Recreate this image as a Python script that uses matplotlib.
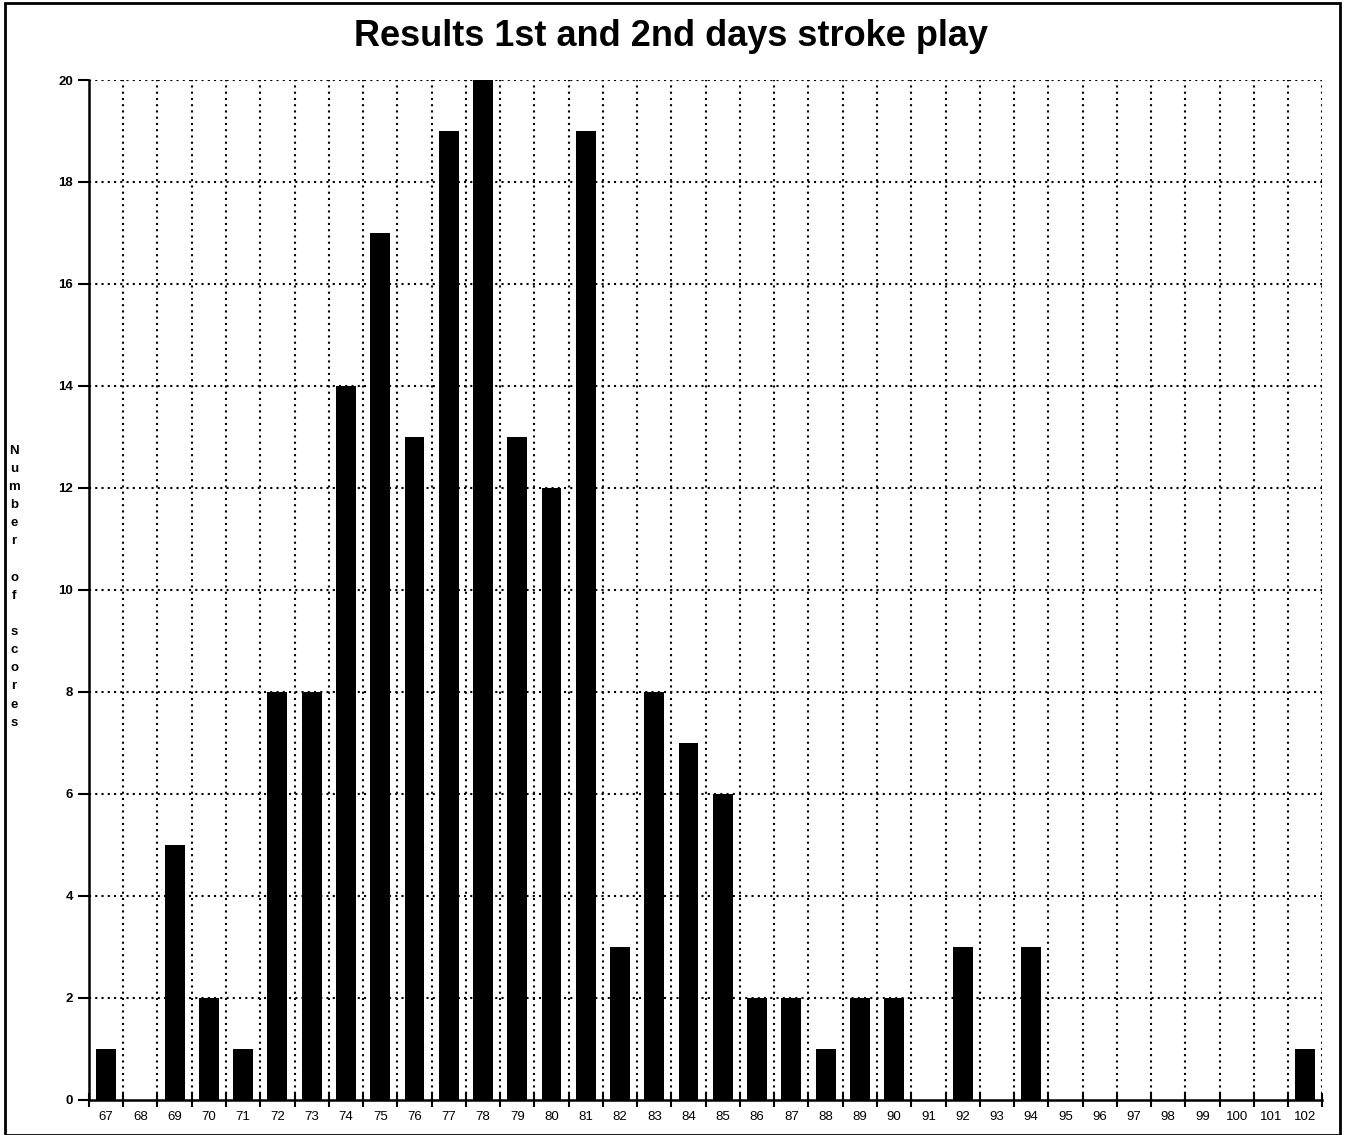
import numpy as np
import matplotlib.pyplot as plt
from matplotlib.patches import Rectangle

plt.rcParams['font.family'] = ['Liberation Sans', 'DejaVu Sans']

# scores and how many times each occurred
scores = list(range(67, 103))
counts = [1, 0, 5, 2, 1, 8, 8, 14, 17, 13, 19, 20, 13, 12, 19, 3, 8, 7, 6,
          2, 2, 1, 2, 2, 0, 3, 0, 3, 0, 0, 0, 0, 0, 0, 0, 1]
yticks = list(range(0, 21, 2))

fig = plt.figure(figsize=(13.48, 11.35), dpi=100)
ax = fig.add_axes([0.066, 0.031, 0.915, 0.8985])

x = np.arange(len(scores))
ax.bar(x, counts, width=0.58, color='black', zorder=3)

ax.set_xlim(-0.5, len(scores) - 0.5)
ax.set_ylim(0, 20)

# grid at category boundaries and every 2 counts
bounds = np.arange(len(scores) + 1) - 0.5
for b in bounds[1:]:
    ax.axvline(b, color='black', linestyle=(0, (1, 2)), linewidth=1.5, zorder=1)
for y in yticks[1:]:
    ax.axhline(y, color='black', linestyle=(0, (1, 2)), linewidth=1.5, zorder=1)

ax.set_xticks(bounds)
ax.set_xticklabels([])
ax.set_xticks(x, minor=True)
ax.set_xticklabels([str(s) for s in scores], minor=True, fontsize=9.5)
ax.tick_params(axis='x', which='major', direction='inout', length=10, width=1.5)
ax.tick_params(axis='x', which='minor', length=0, pad=8)

ax.set_yticks(yticks)
ax.set_yticklabels([str(v) for v in yticks], fontsize=9.5, fontweight='bold')
ax.tick_params(axis='y', direction='out', length=8, width=1.5)

for side in ['top', 'right']:
    ax.spines[side].set_visible(False)
ax.spines['left'].set_linewidth(1.8)
ax.spines['bottom'].set_linewidth(1.8)

fig.text(0.498, 0.968, 'Results 1st and 2nd days stroke play', fontsize=26,
         fontweight='bold', ha='center', va='center')

fig.text(0.0105, 0.483, '\n'.join('Number of scores'), fontsize=9.5, fontweight='bold',
         ha='center', va='center', linespacing=1.68)

fig.patches.append(Rectangle((0.004, 0.0), 0.99, 0.997, transform=fig.transFigure,
                             fill=False, edgecolor='black', linewidth=2))

fig.savefig('out.png', dpi=100)
